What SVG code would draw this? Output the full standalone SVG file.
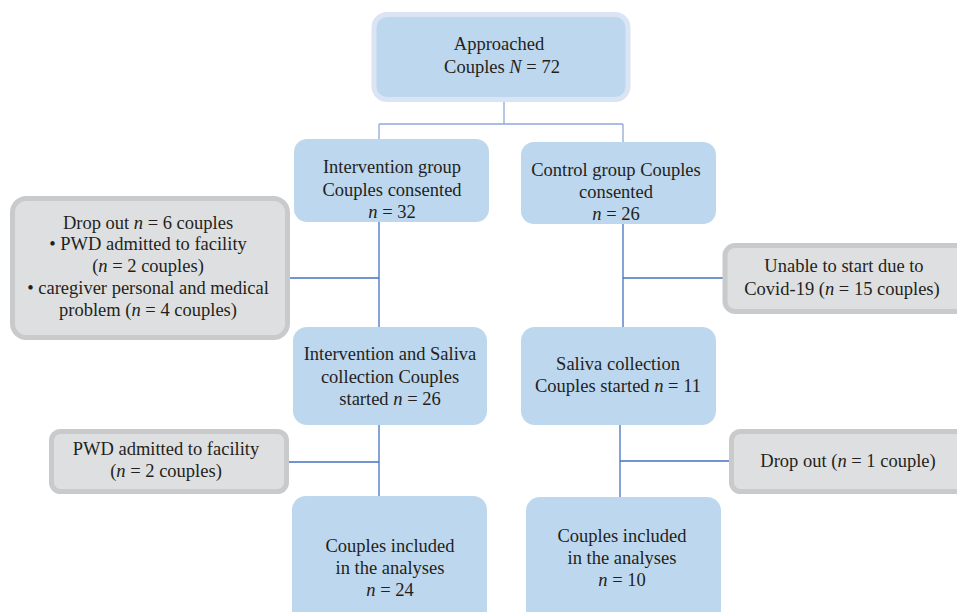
<svg xmlns="http://www.w3.org/2000/svg" width="957" height="612" viewBox="0 0 957 612">
<style>
text{font-size:18.5px;fill:#231F20;text-anchor:middle}
.i{font-style:italic}
.blue{fill:#BDD7EE}
.gray{fill:#DEDFE1;stroke:#C9CACC;stroke-width:5}
.c{stroke:#4472C4;stroke-width:1.3;fill:none}
</style>
<rect width="957" height="612" fill="#fff"/>
<g font-family="'Liberation Serif', Tinos, 'Times New Roman', 'DejaVu Serif', serif">
<g id="connectors">
<path class="c" style="stroke:#8EA9DB" d="M504 102V124M379 124H623M379 124V139M623 124V142"/>
<path class="c" d="M379 222V327M289 278H379M623 224V327M623 278H724"/>
<path class="c" d="M379 425V496M288 462H379M620 425V497M620 461H730"/>
</g>
<g id="approached">
<rect x="374" y="14.5" width="254" height="85" rx="13" fill="#BDD7EE" stroke="#DAE4F3" stroke-width="5"/>
<text x="499" y="50">Approached</text>
<text x="502" y="73">Couples <tspan class="i">N</tspan> = 72</text>
</g>
<g id="intervention">
<rect class="blue" x="294" y="139" width="195" height="83" rx="13"/>
<text x="392" y="173">Intervention group</text>
<text x="392" y="196">Couples consented</text>
<text x="392" y="218"><tspan class="i">n</tspan> = 32</text>
</g>
<g id="control">
<rect class="blue" x="521" y="142" width="195" height="82" rx="13"/>
<text x="616" y="176">Control group Couples</text>
<text x="616" y="198">consented</text>
<text x="616" y="220"><tspan class="i">n</tspan> = 26</text>
</g>
<g id="dropout6">
<rect class="gray" x="12.5" y="198.5" width="275" height="139" rx="14"/>
<text x="148" y="229">Drop out <tspan class="i">n</tspan> = 6 couples</text>
<text x="148" y="250">• PWD admitted to facility</text>
<text x="148" y="272">(<tspan class="i">n</tspan> = 2 couples)</text>
<text x="148" y="294">• caregiver personal and medical</text>
<text x="148" y="316">problem (<tspan class="i">n</tspan> = 4 couples)</text>
</g>
<g id="unable">
<rect class="gray" x="725" y="245.5" width="250" height="66" rx="10"/>
<text x="844" y="272">Unable to start due to</text>
<text x="842" y="295">Covid-19 (<tspan class="i">n</tspan> = 15 couples)</text>
</g>
<g id="saliva-int">
<rect class="blue" x="293" y="327" width="194" height="98" rx="14"/>
<text x="390" y="360">Intervention and Saliva</text>
<text x="390" y="383">collection Couples</text>
<text x="390" y="405">started <tspan class="i">n</tspan> = 26</text>
</g>
<g id="saliva-ctrl">
<rect class="blue" x="521" y="327" width="195" height="98" rx="14"/>
<text x="618" y="370">Saliva collection</text>
<text x="618" y="392">Couples started <tspan class="i">n</tspan> = 11</text>
</g>
<g id="pwd">
<rect class="gray" x="51.5" y="431.5" width="235" height="60" rx="9"/>
<text x="166" y="455">PWD admitted to facility</text>
<text x="166" y="477">(<tspan class="i">n</tspan> = 2 couples)</text>
</g>
<g id="dropout1">
<rect class="gray" x="731.5" y="431.5" width="240" height="60" rx="9"/>
<text x="848" y="467">Drop out (<tspan class="i">n</tspan> = 1 couple)</text>
</g>
<g id="included-int">
<rect class="blue" x="292" y="496" width="195" height="140" rx="14"/>
<text x="390" y="552">Couples included</text>
<text x="390" y="574">in the analyses</text>
<text x="390" y="596"><tspan class="i">n</tspan> = 24</text>
</g>
<g id="included-ctrl">
<rect class="blue" x="526" y="497" width="195" height="140" rx="14"/>
<text x="622" y="542">Couples included</text>
<text x="622" y="564">in the analyses</text>
<text x="622" y="586"><tspan class="i">n</tspan> = 10</text>
</g>
</g>
</svg>
